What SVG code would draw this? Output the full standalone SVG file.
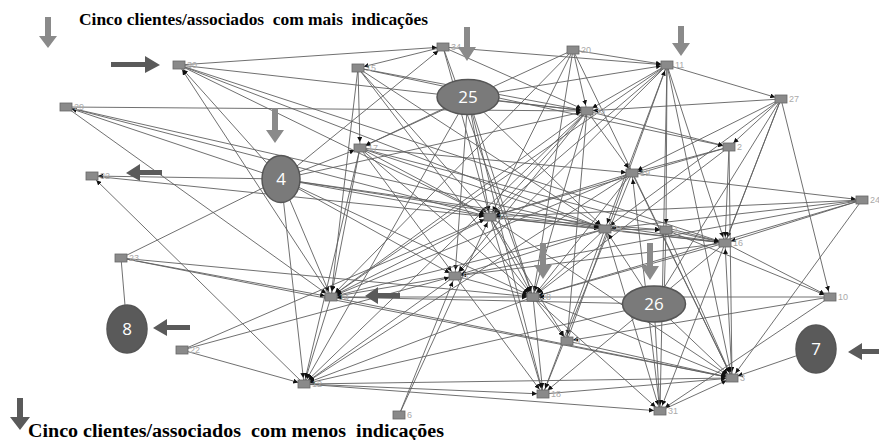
<svg xmlns="http://www.w3.org/2000/svg" width="879" height="440" viewBox="0 0 879 440">
<defs>
<style>
.e line{stroke:#606060;stroke-width:0.9;marker-end:url(#ah)}
.n rect{fill:#8a8a8a;stroke:#666;stroke-width:0.8}
.n text{font-family:"Liberation Sans",Arial,sans-serif;font-size:9px;fill:#aaa}
.big ellipse{stroke:#555;stroke-width:1.5}
.big text{font-family:"Open Sans","Liberation Sans",sans-serif;font-size:17px;fill:#fff;text-anchor:middle}
.ttl{font-family:"Liberation Serif","Times New Roman",serif;font-weight:bold;fill:#000}
.al{fill:#8a8a8a}
.ad{fill:#5a5a5a}
</style>
<marker id="ah" viewBox="0 0 10 10" refX="22" refY="5" markerWidth="5" markerHeight="5" markerUnits="userSpaceOnUse" orient="auto"><path d="M0,0 L10,5 L0,10 z" fill="#111"/></marker>
</defs>
<rect width="879" height="440" fill="#fff"/>
<g id="connectors" class="e">
<line x1="179" y1="65" x2="587" y2="111"/>
<line x1="179" y1="65" x2="443" y2="47"/>
<line x1="179" y1="65" x2="490" y2="217"/>
<line x1="179" y1="65" x2="605" y2="229"/>
<line x1="331" y1="297" x2="179" y2="65"/>
<line x1="66" y1="107" x2="587" y2="111"/>
<line x1="66" y1="107" x2="490" y2="217"/>
<line x1="66" y1="107" x2="605" y2="229"/>
<line x1="66" y1="107" x2="331" y2="297"/>
<line x1="443" y1="47" x2="358" y2="68"/>
<line x1="443" y1="47" x2="587" y2="111"/>
<line x1="443" y1="47" x2="667" y2="65"/>
<line x1="443" y1="47" x2="490" y2="217"/>
<line x1="443" y1="47" x2="533" y2="297"/>
<line x1="281" y1="179" x2="443" y2="47"/>
<line x1="358" y1="68" x2="360" y2="148"/>
<line x1="358" y1="68" x2="587" y2="111"/>
<line x1="358" y1="68" x2="490" y2="217"/>
<line x1="358" y1="68" x2="331" y2="297"/>
<line x1="358" y1="68" x2="605" y2="229"/>
<line x1="358" y1="68" x2="729" y2="147"/>
<line x1="573" y1="50" x2="587" y2="111"/>
<line x1="573" y1="50" x2="667" y2="65"/>
<line x1="573" y1="50" x2="360" y2="148"/>
<line x1="573" y1="50" x2="490" y2="217"/>
<line x1="573" y1="50" x2="533" y2="297"/>
<line x1="573" y1="50" x2="732" y2="378"/>
<line x1="667" y1="65" x2="781" y2="99"/>
<line x1="667" y1="65" x2="587" y2="111"/>
<line x1="667" y1="65" x2="490" y2="217"/>
<line x1="667" y1="65" x2="605" y2="229"/>
<line x1="667" y1="65" x2="666" y2="230"/>
<line x1="667" y1="65" x2="725" y2="243"/>
<line x1="667" y1="65" x2="660" y2="411"/>
<line x1="667" y1="65" x2="732" y2="378"/>
<line x1="667" y1="65" x2="331" y2="297"/>
<line x1="667" y1="65" x2="455" y2="276"/>
<line x1="781" y1="99" x2="587" y2="111"/>
<line x1="781" y1="99" x2="729" y2="147"/>
<line x1="781" y1="99" x2="632" y2="173"/>
<line x1="781" y1="99" x2="605" y2="229"/>
<line x1="781" y1="99" x2="725" y2="243"/>
<line x1="781" y1="99" x2="654" y2="304"/>
<line x1="781" y1="99" x2="660" y2="411"/>
<line x1="781" y1="99" x2="830" y2="297"/>
<line x1="468" y1="97" x2="667" y2="65"/>
<line x1="468" y1="97" x2="587" y2="111"/>
<line x1="468" y1="97" x2="490" y2="217"/>
<line x1="468" y1="97" x2="533" y2="297"/>
<line x1="468" y1="97" x2="455" y2="276"/>
<line x1="468" y1="97" x2="360" y2="148"/>
<line x1="468" y1="97" x2="605" y2="229"/>
<line x1="468" y1="97" x2="304" y2="384"/>
<line x1="468" y1="97" x2="543" y2="394"/>
<line x1="587" y1="111" x2="729" y2="147"/>
<line x1="587" y1="111" x2="490" y2="217"/>
<line x1="587" y1="111" x2="331" y2="297"/>
<line x1="587" y1="111" x2="455" y2="276"/>
<line x1="587" y1="111" x2="304" y2="384"/>
<line x1="587" y1="111" x2="632" y2="173"/>
<line x1="587" y1="111" x2="533" y2="297"/>
<line x1="587" y1="111" x2="567" y2="341"/>
<line x1="360" y1="148" x2="490" y2="217"/>
<line x1="360" y1="148" x2="605" y2="229"/>
<line x1="360" y1="148" x2="725" y2="243"/>
<line x1="360" y1="148" x2="632" y2="173"/>
<line x1="360" y1="148" x2="331" y2="297"/>
<line x1="360" y1="148" x2="304" y2="384"/>
<line x1="360" y1="148" x2="455" y2="276"/>
<line x1="281" y1="179" x2="360" y2="148"/>
<line x1="281" y1="179" x2="490" y2="217"/>
<line x1="281" y1="179" x2="605" y2="229"/>
<line x1="281" y1="179" x2="331" y2="297"/>
<line x1="281" y1="179" x2="304" y2="384"/>
<line x1="281" y1="179" x2="455" y2="276"/>
<line x1="281" y1="179" x2="533" y2="297"/>
<line x1="281" y1="179" x2="92" y2="176"/>
<line x1="281" y1="179" x2="66" y2="107"/>
<line x1="281" y1="179" x2="179" y2="65"/>
<line x1="281" y1="179" x2="587" y2="111"/>
<line x1="281" y1="179" x2="725" y2="243"/>
<line x1="92" y1="176" x2="490" y2="217"/>
<line x1="304" y1="384" x2="92" y2="176"/>
<line x1="729" y1="147" x2="632" y2="173"/>
<line x1="729" y1="147" x2="490" y2="217"/>
<line x1="729" y1="147" x2="533" y2="297"/>
<line x1="729" y1="147" x2="732" y2="378"/>
<line x1="729" y1="147" x2="725" y2="243"/>
<line x1="632" y1="173" x2="490" y2="217"/>
<line x1="632" y1="173" x2="331" y2="297"/>
<line x1="632" y1="173" x2="533" y2="297"/>
<line x1="632" y1="173" x2="304" y2="384"/>
<line x1="632" y1="173" x2="862" y2="200"/>
<line x1="632" y1="173" x2="732" y2="378"/>
<line x1="632" y1="173" x2="543" y2="394"/>
<line x1="862" y1="200" x2="490" y2="217"/>
<line x1="862" y1="200" x2="605" y2="229"/>
<line x1="862" y1="200" x2="725" y2="243"/>
<line x1="862" y1="200" x2="455" y2="276"/>
<line x1="862" y1="200" x2="732" y2="378"/>
<line x1="490" y1="217" x2="605" y2="229"/>
<line x1="490" y1="217" x2="666" y2="230"/>
<line x1="490" y1="217" x2="725" y2="243"/>
<line x1="490" y1="217" x2="533" y2="297"/>
<line x1="490" y1="217" x2="331" y2="297"/>
<line x1="490" y1="217" x2="543" y2="394"/>
<line x1="490" y1="217" x2="732" y2="378"/>
<line x1="490" y1="217" x2="567" y2="341"/>
<line x1="605" y1="229" x2="666" y2="230"/>
<line x1="605" y1="229" x2="725" y2="243"/>
<line x1="605" y1="229" x2="533" y2="297"/>
<line x1="605" y1="229" x2="331" y2="297"/>
<line x1="605" y1="229" x2="660" y2="411"/>
<line x1="605" y1="229" x2="543" y2="394"/>
<line x1="605" y1="229" x2="455" y2="276"/>
<line x1="666" y1="230" x2="725" y2="243"/>
<line x1="666" y1="230" x2="664" y2="300"/>
<line x1="666" y1="230" x2="732" y2="378"/>
<line x1="666" y1="230" x2="830" y2="297"/>
<line x1="725" y1="243" x2="533" y2="297"/>
<line x1="725" y1="243" x2="830" y2="297"/>
<line x1="725" y1="243" x2="455" y2="276"/>
<line x1="725" y1="243" x2="543" y2="394"/>
<line x1="121" y1="258" x2="281" y2="179"/>
<line x1="121" y1="258" x2="331" y2="297"/>
<line x1="121" y1="258" x2="533" y2="297"/>
<line x1="121" y1="258" x2="732" y2="378"/>
<line x1="121" y1="258" x2="127" y2="329"/>
<line x1="455" y1="276" x2="331" y2="297"/>
<line x1="455" y1="276" x2="533" y2="297"/>
<line x1="455" y1="276" x2="543" y2="394"/>
<line x1="455" y1="276" x2="304" y2="384"/>
<line x1="331" y1="297" x2="533" y2="297"/>
<line x1="331" y1="297" x2="304" y2="384"/>
<line x1="331" y1="297" x2="732" y2="378"/>
<line x1="533" y1="297" x2="543" y2="394"/>
<line x1="533" y1="297" x2="660" y2="411"/>
<line x1="533" y1="297" x2="304" y2="384"/>
<line x1="533" y1="297" x2="567" y2="341"/>
<line x1="654" y1="304" x2="660" y2="411"/>
<line x1="654" y1="304" x2="732" y2="378"/>
<line x1="654" y1="304" x2="304" y2="384"/>
<line x1="654" y1="304" x2="331" y2="297"/>
<line x1="654" y1="304" x2="605" y2="229"/>
<line x1="182" y1="350" x2="455" y2="276"/>
<line x1="182" y1="350" x2="490" y2="217"/>
<line x1="182" y1="350" x2="304" y2="384"/>
<line x1="304" y1="384" x2="543" y2="394"/>
<line x1="304" y1="384" x2="660" y2="411"/>
<line x1="304" y1="384" x2="732" y2="378"/>
<line x1="567" y1="341" x2="732" y2="378"/>
<line x1="567" y1="341" x2="667" y2="65"/>
<line x1="399" y1="415" x2="455" y2="276"/>
<line x1="399" y1="415" x2="490" y2="217"/>
<line x1="543" y1="394" x2="732" y2="378"/>
<line x1="816" y1="349" x2="732" y2="378"/>
<line x1="660" y1="411" x2="732" y2="378"/>
<line x1="830" y1="297" x2="533" y2="297"/>
<line x1="830" y1="297" x2="567" y2="341"/>
<line x1="732" y1="378" x2="725" y2="243"/>
<line x1="862" y1="200" x2="533" y2="297"/>
<line x1="660" y1="411" x2="632" y2="173"/>
<line x1="830" y1="297" x2="660" y2="411"/>
<line x1="533" y1="297" x2="732" y2="378"/>
<line x1="360" y1="148" x2="533" y2="297"/>
<line x1="358" y1="68" x2="533" y2="297"/>
<line x1="179" y1="65" x2="725" y2="243"/>
<line x1="573" y1="50" x2="331" y2="297"/>
</g>
<g class="n">
<g id="n30"><rect x="173" y="61" width="12" height="8"/><text x="187" y="68">30</text></g>
<g id="n29"><rect x="60" y="103" width="12" height="8"/><text x="74" y="110">29</text></g>
<g id="n34"><rect x="437" y="43" width="12" height="8"/><text x="451" y="50">34</text></g>
<g id="n15"><rect x="352" y="64" width="12" height="8"/><text x="366" y="71">15</text></g>
<g id="n20"><rect x="567" y="46" width="12" height="8"/><text x="581" y="53">20</text></g>
<g id="n11"><rect x="661" y="61" width="12" height="8"/><text x="675" y="68">11</text></g>
<g id="n27"><rect x="775" y="95" width="12" height="8"/><text x="789" y="102">27</text></g>
<g id="n33"><rect x="581" y="107" width="12" height="8"/><text x="595" y="114">33</text></g>
<g id="n17"><rect x="354" y="144" width="12" height="8"/><text x="368" y="151">17</text></g>
<g id="n32"><rect x="86" y="172" width="12" height="8"/><text x="100" y="179">32</text></g>
<g id="n2"><rect x="723" y="143" width="12" height="8"/><text x="737" y="150">2</text></g>
<g id="n19"><rect x="626" y="169" width="12" height="8"/><text x="640" y="176">19</text></g>
<g id="n24"><rect x="856" y="196" width="12" height="8"/><text x="870" y="203">24</text></g>
<g id="n13"><rect x="484" y="213" width="12" height="8"/><text x="498" y="220">13</text></g>
<g id="n21"><rect x="599" y="225" width="12" height="8"/><text x="613" y="232">21</text></g>
<g id="n1"><rect x="660" y="226" width="12" height="8"/><text x="674" y="233">1</text></g>
<g id="n16"><rect x="719" y="239" width="12" height="8"/><text x="733" y="246">16</text></g>
<g id="n23"><rect x="115" y="254" width="12" height="8"/><text x="129" y="261">23</text></g>
<g id="n5"><rect x="449" y="272" width="12" height="8"/><text x="463" y="279">5</text></g>
<g id="n14"><rect x="325" y="293" width="12" height="8"/><text x="339" y="300">14</text></g>
<g id="n28"><rect x="527" y="293" width="12" height="8"/><text x="541" y="300">28</text></g>
<g id="n10"><rect x="824" y="293" width="12" height="8"/><text x="838" y="300">10</text></g>
<g id="n22"><rect x="176" y="346" width="12" height="8"/><text x="190" y="353">22</text></g>
<g id="n9"><rect x="561" y="337" width="12" height="8"/><text x="575" y="344">9</text></g>
<g id="n12"><rect x="298" y="380" width="12" height="8"/><text x="312" y="387">12</text></g>
<g id="n18"><rect x="537" y="390" width="12" height="8"/><text x="551" y="397">18</text></g>
<g id="n6"><rect x="393" y="411" width="12" height="8"/><text x="407" y="418">6</text></g>
<g id="n3"><rect x="726" y="374" width="12" height="8"/><text x="740" y="381">3</text></g>
<g id="n31"><rect x="654" y="407" width="12" height="8"/><text x="668" y="414">31</text></g>
</g>
<g class="big">
<g id="n25"><ellipse cx="468" cy="97" rx="31" ry="17.5" fill="#7a7a7a"/><text x="468" y="103">25</text></g>
<g id="n4"><ellipse cx="281" cy="179" rx="19" ry="23.5" fill="#7a7a7a"/><text x="281" y="185">4</text></g>
<g id="n26"><ellipse cx="654" cy="304" rx="31.5" ry="18" fill="#7a7a7a"/><text x="654" y="310">26</text></g>
<g id="n8"><ellipse cx="127" cy="329" rx="20" ry="24" fill="#5a5a5a"/><text x="127" y="335">8</text></g>
<g id="n7"><ellipse cx="816" cy="349" rx="20" ry="24" fill="#5a5a5a"/><text x="816" y="355">7</text></g>
</g>
<g id="pointers">
<path class="al" d="M45,17 h6 v19 h6 l-9,12 l-9,-12 h6 z"/>
<path class="ad" d="M111,62 h34 v-6 l15,9 l-15,8 v-6 h-34 z"/>
<path class="al" d="M272,108 h6 v22 h6 l-9,13 l-9,-13 h6 z"/>
<path class="ad" d="M162,170 h-22 v-6 l-14,9 l14,8 v-6 h22 z"/>
<path class="al" d="M464,27 h6 v20 h6 l-9,14 l-9,-14 h6 z"/>
<path class="al" d="M678,26 h6 v17 h6 l-9,13 l-9,-13 h6 z"/>
<path class="al" d="M540,243 h6 v22 h6 l-9,14 l-9,-14 h6 z"/>
<path class="al" d="M647,243 h6 v23 h6 l-9,14 l-9,-14 h6 z"/>
<path class="ad" d="M400,293 h-22 v-6 l-13,9 l13,8 v-6 h22 z"/>
<path class="ad" d="M190,325 h-23 v-6 l-14,9 l14,8 v-6 h23 z"/>
<path class="ad" d="M880,349 h-18 v-6 l-14,9 l14,8 v-6 h18 z"/>
<path class="ad" d="M17,398 h6 v19 h7 l-10,13 l-10,-13 h7 z"/>
</g>
<text class="ttl" x="79" y="25" font-size="17" textLength="349" lengthAdjust="spacingAndGlyphs" xml:space="preserve">Cinco clientes/associados  com mais  indicações</text>
<text class="ttl" x="28" y="437" font-size="18" textLength="416" lengthAdjust="spacingAndGlyphs" xml:space="preserve">Cinco clientes/associados  com menos  indicações</text>
</svg>
